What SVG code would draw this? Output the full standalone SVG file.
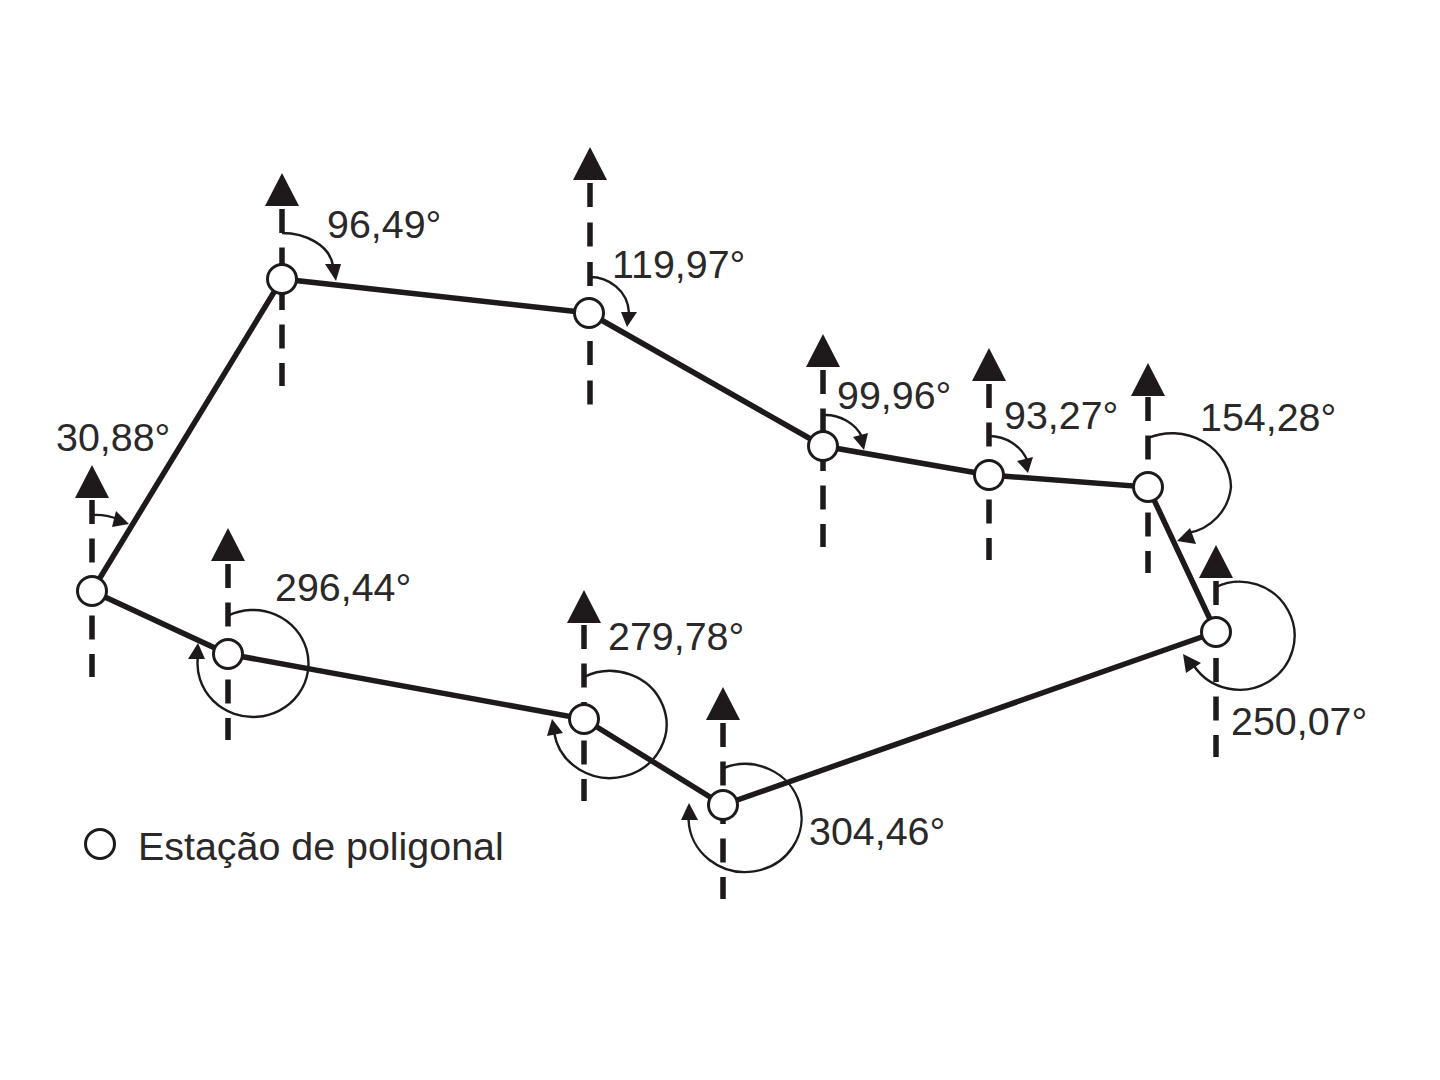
<svg xmlns="http://www.w3.org/2000/svg" xmlns:xlink="http://www.w3.org/1999/xlink" width="1440" height="1080" viewBox="0 0 1440 1080">
<style>
.edge{fill:none;stroke:#1e1a1b;stroke-width:5.5}
.north{fill:none;stroke:#1e1a1b;stroke-width:5.5;stroke-dasharray:24 14.5}
.angle{fill:none;stroke:#1e1a1b;stroke-width:2.4}
.head{fill:#1e1a1b;stroke:none}
.station{fill:#fff;stroke:#1e1a1b;stroke-width:3}
text{font-family:"Liberation Sans",Arial,sans-serif;font-size:39.4px;fill:#2b2829}
</style>
<defs>
<polygon id="tip" class="head" points="0,0 17,33 -17,33"/>
</defs>
<rect width="1440" height="1080" fill="#fff"/>
<g id="connectors">
<path class="edge" d="M92 591L282 279L589 313L823 446L989 475L1148 487L1216 632L723 805L584 719L228 654Z"/>
</g>
<g id="station-1">
<use xlink:href="#tip" href="#tip" x="92" y="465"/>
<line class="north" x1="92" y1="500" x2="92" y2="677"/>
<path class="angle" d="M92 515Q106 514 120 520"/>
<polygon class="head" points="129,524 116,511 112,527"/>
<circle class="station" cx="92" cy="591" r="14.5"/>
<text x="56" y="451">30,88°</text>
</g>
<g id="station-2">
<use xlink:href="#tip" href="#tip" x="282" y="173"/>
<line class="north" x1="282" y1="209" x2="282" y2="386"/>
<path class="angle" d="M282 233C305 233 330 245 333 266"/>
<polygon class="head" points="336,281 325,264 341,264"/>
<circle class="station" cx="282" cy="279" r="14.5"/>
<text x="327" y="238">96,49°</text>
</g>
<g id="station-3">
<use xlink:href="#tip" href="#tip" x="590" y="147"/>
<line class="north" x1="590" y1="183" x2="590" y2="405" style="stroke-dasharray:24 15.5"/>
<path class="angle" d="M590 277C608 277 628 290 629 313"/>
<polygon class="head" points="627,327 621,312 637,312"/>
<circle class="station" cx="589" cy="313" r="14.5"/>
<text x="612" y="278">119,97°</text>
</g>
<g id="station-4">
<use xlink:href="#tip" href="#tip" x="823" y="334"/>
<line class="north" x1="823" y1="370" x2="823" y2="547"/>
<path class="angle" d="M823 415C840 414 856 424 862 437"/>
<polygon class="head" points="864,450 853,437 868,433"/>
<circle class="station" cx="823" cy="446" r="14.5"/>
<text x="837" y="409">99,96°</text>
</g>
<g id="station-5">
<use xlink:href="#tip" href="#tip" x="989" y="348"/>
<line class="north" x1="989" y1="384" x2="989" y2="560"/>
<path class="angle" d="M989 436C1006 436 1021 446 1027 460"/>
<polygon class="head" points="1028,473 1017,461 1033,457"/>
<circle class="station" cx="989" cy="475" r="14.5"/>
<text x="1004" y="429">93,27°</text>
</g>
<g id="station-6">
<use xlink:href="#tip" href="#tip" x="1148" y="363"/>
<line class="north" x1="1148" y1="397" x2="1148" y2="573"/>
<path class="angle" d="M1148 438A59 55 0 0 1 1231 487A52 52 0 0 1 1188 533"/>
<polygon class="head" points="1177,541 1190,528 1196,544"/>
<circle class="station" cx="1148" cy="487" r="14.5"/>
<text x="1200" y="431">154,28°</text>
</g>
<g id="station-7">
<use xlink:href="#tip" href="#tip" x="1216" y="545"/>
<line class="north" x1="1216" y1="581" x2="1216" y2="757"/>
<path class="angle" d="M1216 587A55 54 0 1 1 1194 666"/>
<polygon class="head" points="1183,654 1186,673 1201,663"/>
<circle class="station" cx="1216" cy="632" r="14.5"/>
<text x="1231" y="735">250,07°</text>
</g>
<g id="station-8">
<use xlink:href="#tip" href="#tip" x="723" y="687"/>
<line class="north" x1="723" y1="723" x2="723" y2="899"/>
<path class="angle" d="M723 768.3A56.5 54 0 1 1 688.6 820"/>
<polygon class="head" points="689,803 681,820 698,820"/>
<circle class="station" cx="723" cy="805" r="14.5"/>
<text x="809" y="845">304,46°</text>
</g>
<g id="station-9">
<use xlink:href="#tip" href="#tip" x="584" y="590"/>
<line class="north" x1="584" y1="625" x2="584" y2="801"/>
<path class="angle" d="M584 677A56.5 53.500 0 1 1 554.2 733"/>
<polygon class="head" points="552,719 547,736 563,733"/>
<circle class="station" cx="584" cy="719" r="14.5"/>
<text x="608" y="650">279,78°</text>
</g>
<g id="station-10">
<use xlink:href="#tip" href="#tip" x="228" y="528"/>
<line class="north" x1="228" y1="564" x2="228" y2="740"/>
<path class="angle" d="M228 615.7A55.5 53.500 0 1 1 197.900 657"/>
<polygon class="head" points="198,643 188,659 205,659"/>
<circle class="station" cx="228" cy="654" r="14.5"/>
<text x="275" y="601">296,44°</text>
</g>
<g id="legend">
<circle class="station" cx="100" cy="844" r="14.5"/>
<text x="138" y="860">Estação de poligonal</text>
</g>
</svg>
